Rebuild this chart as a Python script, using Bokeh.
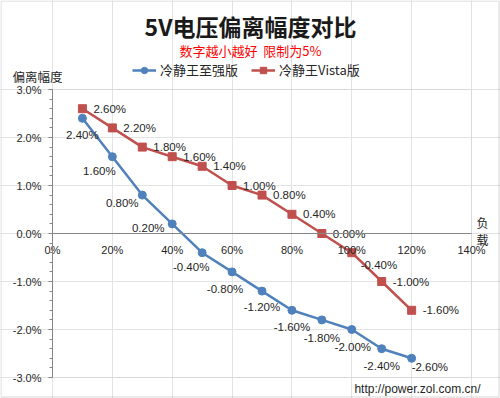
from bokeh.plotting import figure
from bokeh.models import (ColumnDataSource, FixedTicker, PrintfTickFormatter, Label,
                          Legend, LegendItem, Range1d, BoxAnnotation)
from bokeh.embed import file_html
from bokeh.resources import INLINE
from bokeh.core.properties import value

# ---- data ----
load = [10, 20, 30, 40, 50, 60, 70, 80, 90, 100, 110, 120]
xeon = [2.4, 1.6, 0.8, 0.2, -0.4, -0.8, -1.2, -1.6, -1.8, -2.0, -2.4, -2.6]
vista = [2.6, 2.2, 1.8, 1.6, 1.4, 1.0, 0.8, 0.4, 0.0, -0.4, -1.0, -1.6]
series_names = ["冷静王至强版", "冷静王Vista版"]
x_ticks = [0, 20, 40, 60, 80, 100, 120, 140]
y_ticks = [-3, -2, -1, 0, 1, 2, 3]
title_text = "5V电压偏离幅度对比"
subtitle_text = "数字越小越好\u00a0\u00a0限制为5%"
y_title = "偏离幅度"
x_title = "负\n载"
source_text = "http://power.zol.com.cn/"

# label placement (style only)
xeon_dx = [0, -13, -20, -24, -11, -7, 0, 0, 0, 1, 0, 0]
xeon_dy = [17, 14, 8, 4, 14, 17, 16, 17, 18, 17, 17, 9]
xeon_align = ["center"] * 11 + ["left"]
vista_dx = [11] * 12
vista_dy = [0] * 12
vista_dx[9] = 9
vista_dy[9] = 12

BLUE = "#4F81BD"
RED = "#C0504D"
TXT = "#262626"
NUM_FONT = "Liberation Sans"
CJK = "Noto Sans CJK SC"

W, H = 500, 398
# plot-area pixel box (layout)
PX0, PX1, PY0, PY1 = 52, 471, 89, 377
xs = (PX1 - PX0) / (x_ticks[-1] - x_ticks[0])
ys = (PY1 - PY0) / (y_ticks[-1] - y_ticks[0])
x_range = Range1d(x_ticks[0] - PX0 / xs, x_ticks[-1] + (W - PX1) / xs)
y_range = Range1d(y_ticks[0] - (H - PY1) / ys, y_ticks[-1] + PY0 / ys)

src_x = ColumnDataSource(dict(x=load, y=xeon, t=[f"{v:.2f}%" for v in xeon],
                              dx=xeon_dx, dy=xeon_dy, al=xeon_align))
src_v = ColumnDataSource(dict(x=load, y=vista, t=[f"{v:.2f}%" for v in vista],
                              dx=vista_dx, dy=vista_dy))

p = figure(width=W, height=H, output_backend="svg", toolbar_location=None,
           x_range=x_range, y_range=y_range,
           min_border_left=0, min_border_right=0, min_border_top=0, min_border_bottom=0)
p.background_fill_color = "white"
p.border_fill_color = "white"
p.outline_line_color = None

# axes
p.xaxis.ticker = FixedTicker(ticks=x_ticks)
p.xaxis.formatter = PrintfTickFormatter(format="%d%%")
p.xaxis.fixed_location = 0
p.xaxis.bounds = (x_ticks[0], x_ticks[-1])
p.xaxis.axis_line_color = "#868686"
p.xaxis.major_tick_out = 0
p.xaxis.major_tick_in = 0
p.xaxis.minor_tick_line_color = None
p.xaxis.major_label_standoff = 10
p.xaxis.major_label_text_font = NUM_FONT
p.xaxis.major_label_text_font_size = "11px"
p.xaxis.major_label_text_color = TXT

y_minor = [round(-3 + 0.2 * i, 1) for i in range(31)]
p.yaxis.ticker = FixedTicker(ticks=y_ticks, minor_ticks=y_minor)
p.yaxis.formatter = PrintfTickFormatter(format="%.1f%%")
p.yaxis.fixed_location = 0
p.yaxis.bounds = (y_ticks[0], y_ticks[-1])
p.yaxis.axis_line_color = "#868686"
p.yaxis.major_tick_line_color = "#868686"
p.yaxis.minor_tick_line_color = "#868686"
p.yaxis.major_tick_out = 4
p.yaxis.major_tick_in = 0
p.yaxis.minor_tick_out = 3
p.yaxis.minor_tick_in = 0
p.yaxis.major_label_standoff = 7
p.yaxis.major_label_text_font = NUM_FONT
p.yaxis.major_label_text_font_size = "11px"
p.yaxis.major_label_text_color = TXT

p.xgrid.ticker = FixedTicker(ticks=x_ticks)
p.ygrid.ticker = FixedTicker(ticks=y_ticks)
p.xgrid.bounds = (y_ticks[0], y_ticks[-1])
p.ygrid.bounds = (x_ticks[0], x_ticks[-1])
p.xgrid.grid_line_color = "#E3E3E3"
p.ygrid.grid_line_color = "#E3E3E3"

# plot-area border and chart border
p.add_layout(BoxAnnotation(left=x_ticks[0], right=x_ticks[-1], bottom=y_ticks[0], top=y_ticks[-1],
                           fill_color=None, line_color="#C4C4C4", line_width=1, level="underlay"))
p.add_layout(BoxAnnotation(left=0.5, right=W - 1.5, bottom=1.5, top=H - 0.5,
                           left_units="screen", right_units="screen",
                           bottom_units="screen", top_units="screen",
                           fill_color=None, line_color="#A6A6A6", line_width=1.5))

# series
l1 = p.line("x", "y", source=src_x, line_color=BLUE, line_width=2.5)
m1 = p.scatter("x", "y", source=src_x, marker="circle", size=8, fill_color=BLUE, line_color=BLUE)
l2 = p.line("x", "y", source=src_v, line_color=RED, line_width=2.5)
m2 = p.scatter("x", "y", source=src_v, marker="square", size=8, fill_color=RED, line_color=RED)

p.text("x", "y", text="t", source=src_x, x_offset="dx", y_offset="dy", text_align="al",
       text_baseline="middle", text_font=value(NUM_FONT), text_font_size="11.5px", text_color=TXT)
p.text("x", "y", text="t", source=src_v, x_offset="dx", y_offset="dy", text_align="left",
       text_baseline="middle", text_font=value(NUM_FONT), text_font_size="11.5px", text_color=TXT)

# legend
legend = Legend(items=[LegendItem(label=series_names[0], renderers=[l1, m1]),
                       LegendItem(label=series_names[1], renderers=[l2, m2])],
                orientation="horizontal", location=(132, H - 79))
legend.border_line_color = None
legend.background_fill_alpha = 0
legend.padding = 0
legend.margin = 0
legend.spacing = 13
legend.glyph_width = 24
legend.glyph_height = 16
legend.label_standoff = 4
legend.label_text_font = CJK
legend.label_text_font_size = "13px"
legend.label_text_color = TXT
p.add_layout(legend)

# texts
def screen_label(x, y, text, **kw):
    p.add_layout(Label(x=x, y=H - y, x_units="screen", y_units="screen", text=text,
                       text_baseline="middle", **kw))

screen_label(250, 25, title_text, text_align="center", text_font=CJK,
             text_font_size="23px", text_font_style="bold", text_color="#1A1A1A")
screen_label(250, 50, subtitle_text, text_align="center", text_font=CJK,
             text_font_size="13px", text_color="#FF0000")
screen_label(12, 76, y_title, text_align="left", text_font=CJK,
             text_font_size="12.5px", text_color=TXT)
screen_label(482, 230, x_title, text_align="center", text_font=CJK,
             text_font_size="12px", text_color=TXT, text_line_height=1.0)
screen_label(480, 388, source_text, text_align="right", text_font=NUM_FONT,
             text_font_size="12px", text_color=TXT)

open("out.html", "w").write(file_html(p, INLINE))
